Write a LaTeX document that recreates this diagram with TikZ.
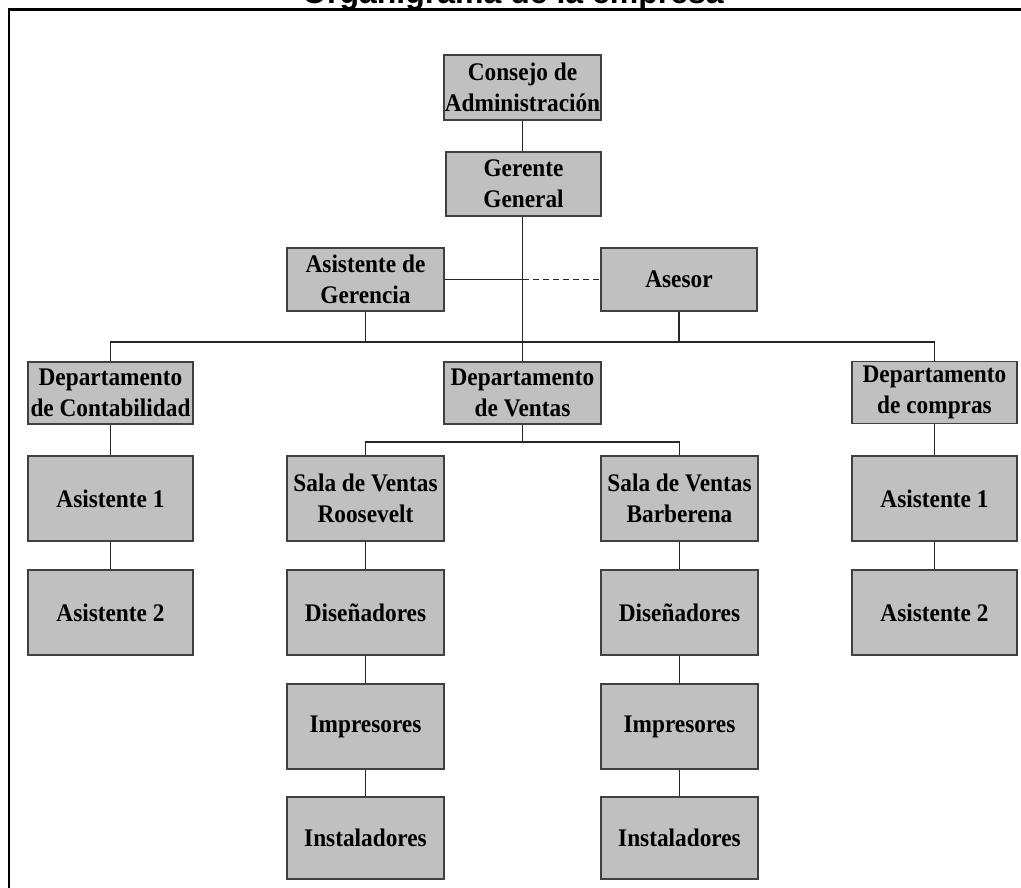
\documentclass[tikz,border=0pt]{standalone}
\usepackage{fontspec}
\setmainfont{Liberation Serif}[FakeStretch=0.92]
\newfontfamily\titlefont{Liberation Sans}
\definecolor{boxfill}{HTML}{C0C0C0}
\definecolor{boxline}{HTML}{404040}
\begin{document}
\begin{tikzpicture}[x=0.75pt,y=-0.75pt,
  orgbox/.style={draw=boxline, line width=1.1pt, fill=boxfill, inner sep=0pt,
    align=center, font=\fontsize{19}{23.5}\selectfont\bfseries},
  wide/.style={minimum width=123.75pt},
  mid/.style={minimum width=117.75pt},
  short/.style={minimum height=46.5pt},
  tall/.style={minimum height=63.75pt},
  conn/.style={draw=black!85, line width=1pt}]
\useasboundingbox (0,0) rectangle (1021,888);
\clip (0,0) rectangle (1021,888);
% frame and clipped title
\draw[line width=1.6pt] (9,9.5) rectangle (1040,900);
\node[anchor=base, font=\titlefont\fontsize{24}{28}\selectfont\bfseries, inner sep=0pt] (title) at (513,4) {Organigrama de la empresa};
% top
\node[orgbox, mid, minimum height=48.75pt] (consejo) at (522.5,87.5) {Consejo de\\Administración};
\node[orgbox, minimum width=116.25pt, minimum height=48pt] (gerente) at (523.5,184) {Gerente\\General};
\node[orgbox, mid, minimum height=47.25pt] (asisger) at (365.5,279.5) {Asistente de\\Gerencia};
\node[orgbox, minimum width=117pt, minimum height=47.25pt] (asesor) at (679,279.5) {Asesor};
% departments
\node[orgbox, wide, short] (contab) at (110.5,393) {Departamento\\de Contabilidad};
\node[orgbox, mid, short] (ventas) at (522.5,393) {Departamento\\de Ventas};
\node[orgbox, wide, short] (compras) at (934.5,392.5) {Departamento\\de compras};
% left column
\node[orgbox, wide, tall] (a1L) at (110.5,498.5) {Asistente 1};
\node[orgbox, wide, tall] (a2L) at (110.5,612.5) {Asistente 2};
% right column
\node[orgbox, wide, tall] (a1R) at (934.5,498.5) {Asistente 1};
\node[orgbox, wide, tall] (a2R) at (934.5,612.5) {Asistente 2};
% Roosevelt column
\node[orgbox, mid, tall] (salaR) at (365.5,498.5) {Sala de Ventas\\Roosevelt};
\node[orgbox, mid, tall] (disR) at (365.5,612.5) {Diseñadores};
\node[orgbox, mid, tall] (impR) at (365.5,726.5) {Impresores};
\node[orgbox, mid, minimum height=61.5pt] (instR) at (365.5,838) {Instaladores};
% Barberena column
\node[orgbox, mid, tall] (salaB) at (679.5,498.5) {Sala de Ventas\\Barberena};
\node[orgbox, mid, tall] (disB) at (679.5,612.5) {Diseñadores};
\node[orgbox, mid, tall] (impB) at (679.5,726.5) {Impresores};
\node[orgbox, mid, minimum height=61.5pt] (instB) at (679.5,838) {Instaladores};
% bus coordinates
\coordinate (bus) at (0,342);
\coordinate (vbus) at (0,442);
% connectors
\draw[conn] (consejo.south) -- (consejo.south |- gerente.north);
\draw[conn] (gerente.south -| consejo.south) -- (ventas.north -| consejo.south);
\draw[conn] (asisger.east) -- (asisger.east -| consejo.south);
\draw[conn, dash pattern=on 4.5pt off 3pt] (asisger.east -| consejo.south) -- (asesor.west);
\draw[conn] (contab.north) -- (contab.north |- bus) -- (compras.north |- bus) -- (compras.north);
\draw[conn] (asisger.south) -- (asisger.south |- bus);
\draw[conn] (asesor.south) -- (asesor.south |- bus);
\draw[conn] (ventas.south) -- (ventas.south |- vbus);
\draw[conn] (salaR.north) -- (salaR.north |- vbus) -- (salaB.north |- vbus) -- (salaB.north);
\draw[conn] (contab) -- (a1L);
\draw[conn] (a1L) -- (a2L);
\draw[conn] (compras) -- (a1R);
\draw[conn] (a1R) -- (a2R);
\draw[conn] (salaR) -- (disR);
\draw[conn] (disR) -- (impR);
\draw[conn] (impR) -- (instR);
\draw[conn] (salaB) -- (disB);
\draw[conn] (disB) -- (impB);
\draw[conn] (impB) -- (instB);
\end{tikzpicture}
\end{document}
